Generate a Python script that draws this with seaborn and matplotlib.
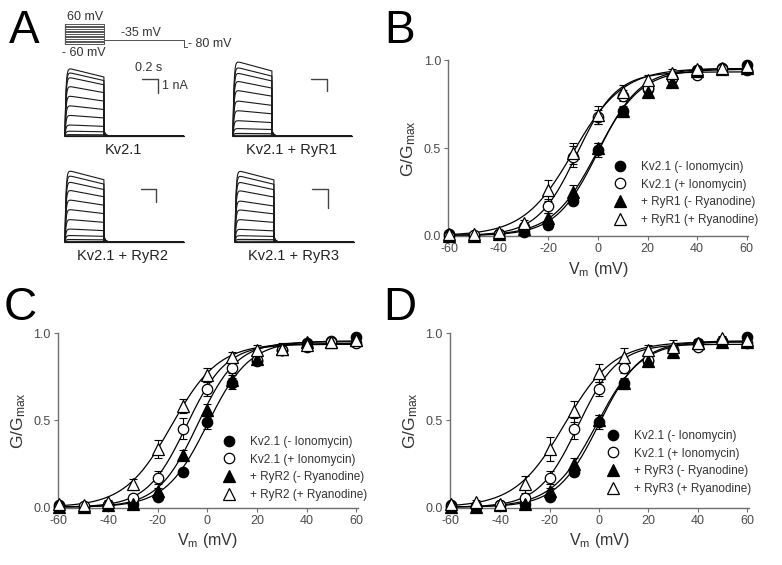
#!/usr/bin/env python3
"""
Kv2.1 / RyR figure: current traces (A) and G-V relations (B-D)
"""

import numpy as np
import pandas as pd
import matplotlib
matplotlib.use("Agg")
import matplotlib.pyplot as plt
import seaborn as sns

# ------------------------------------------------------------
# Data
# ------------------------------------------------------------
vm = [-60, -50, -40, -30, -20, -10, 0, 10, 20, 30, 40, 50, 60]

# G/Gmax means
kv_minus = [0.01, 0.00, 0.01, 0.02, 0.06, 0.20, 0.49, 0.71, 0.84, 0.90, 0.945, 0.955, 0.975]
kv_plus = [0.00, 0.005, 0.01, 0.05, 0.17, 0.45, 0.68, 0.80, 0.845, 0.90, 0.92, 0.95, 0.945]
ryr1_minus = [0.00, 0.00, 0.01, 0.04, 0.10, 0.25, 0.50, 0.71, 0.82, 0.88, 0.94, 0.95, 0.96]
ryr1_plus = [0.01, 0.01, 0.02, 0.07, 0.26, 0.47, 0.69, 0.82, 0.89, 0.93, 0.95, 0.96, 0.97]
ryr2_minus = [0.00, 0.00, 0.01, 0.02, 0.09, 0.30, 0.56, 0.73, 0.85, 0.91, 0.95, 0.95, 0.96]
ryr2_plus = [0.02, 0.01, 0.03, 0.13, 0.335, 0.58, 0.76, 0.86, 0.90, 0.91, 0.93, 0.95, 0.96]
ryr3_minus = [0.00, 0.00, 0.01, 0.02, 0.09, 0.25, 0.50, 0.71, 0.84, 0.89, 0.94, 0.95, 0.95]
ryr3_plus = [0.02, 0.03, 0.02, 0.13, 0.335, 0.55, 0.77, 0.865, 0.90, 0.92, 0.945, 0.97, 0.96]

# SEM
kv_minus_err = [0.0, 0.0, 0.0, 0.01, 0.02, 0.02, 0.04, 0.03, 0.02, 0.02, 0.01, 0.01, 0.01]
kv_plus_err = [0.0, 0.0, 0.0, 0.02, 0.04, 0.06, 0.04, 0.03, 0.03, 0.02, 0.02, 0.01, 0.01]
ryr1_minus_err = [0.0, 0.0, 0.0, 0.01, 0.03, 0.04, 0.03, 0.02, 0.02, 0.02, 0.01, 0.01, 0.01]
ryr1_plus_err = [0.0, 0.0, 0.01, 0.02, 0.06, 0.06, 0.05, 0.04, 0.03, 0.02, 0.02, 0.01, 0.01]
ryr2_minus_err = [0.0, 0.0, 0.0, 0.01, 0.02, 0.03, 0.03, 0.03, 0.02, 0.02, 0.01, 0.01, 0.01]
ryr2_plus_err = [0.0, 0.0, 0.01, 0.03, 0.05, 0.04, 0.04, 0.03, 0.03, 0.03, 0.02, 0.01, 0.01]
ryr3_minus_err = [0.0, 0.0, 0.0, 0.01, 0.02, 0.03, 0.03, 0.02, 0.02, 0.02, 0.01, 0.01, 0.01]
ryr3_plus_err = [0.0, 0.01, 0.01, 0.05, 0.07, 0.06, 0.05, 0.05, 0.03, 0.04, 0.02, 0.01, 0.01]

# Boltzmann fit parameters (V1/2 mV, slope k mV, Gmax)
kv_minus_fit = (0.0, 8.5, 0.955)
kv_plus_fit = (-8.5, 8.0, 0.935)
ryr1_minus_fit = (-0.5, 9.0, 0.95)
ryr1_plus_fit = (-10.0, 10.0, 0.955)
ryr2_minus_fit = (-4.0, 8.0, 0.95)
ryr2_plus_fit = (-14.5, 9.5, 0.94)
ryr3_minus_fit = (-1.0, 9.0, 0.95)
ryr3_plus_fit = (-14.0, 10.0, 0.95)

# Panel A: peak current (nA) of each step, -60 ... +60 mV
steps_mv = vm
amp_kv = [0.0, 0.0, 0.02, 0.10, 0.35, 0.80, 1.50, 2.20, 2.90, 3.60, 4.25, 4.60, 4.90]
amp_ryr1 = [0.0, 0.0, 0.06, 0.22, 0.63, 1.30, 2.15, 2.97, 3.86, 4.64, 5.33, 5.80, 6.30]
amp_ryr2 = [0.0, 0.0, 0.05, 0.20, 0.52, 1.04, 1.80, 2.60, 3.37, 4.14, 4.80, 5.30, 5.70]
amp_ryr3 = [0.0, 0.0, 0.04, 0.14, 0.34, 0.68, 1.20, 1.72, 2.20, 2.75, 3.20, 3.53, 3.80]

legend_kv = ["Kv2.1 (- Ionomycin)", "Kv2.1 (+ Ionomycin)"]

# ------------------------------------------------------------
# Style
# ------------------------------------------------------------
sns.set_style("ticks")
plt.rcParams["font.family"] = ["Liberation Sans", "DejaVu Sans"]
plt.rcParams["mathtext.fontset"] = "custom"
plt.rcParams["mathtext.rm"] = "Liberation Sans"
plt.rcParams["mathtext.it"] = "Liberation Sans:italic"
plt.rcParams["axes.unicode_minus"] = False

W, H = 782, 565
fig = plt.figure(figsize=(W / 100, H / 100), dpi=100)

AX_GRAY = "#6e6e6e"
TXT = "#333333"


def px_axes(left, top, width, height):
    return fig.add_axes([left / W, 1 - (top + height) / H, width / W, height / H])


def boltz(v, p):
    vh, k, gmax = p
    return gmax / (1 + np.exp((vh - v) / k))


# ------------------------------------------------------------
# Panel letters
# ------------------------------------------------------------
for letter, x, y in [("A", 9, 43), ("B", 384, 43), ("C", 4, 320), ("D", 383, 320)]:
    fig.text(x / W, 1 - y / H, letter, fontsize=33, va="baseline", ha="left", color="black")

# ------------------------------------------------------------
# A. Voltage protocol
# ------------------------------------------------------------
PX_S = 78.0  # px per second
ax_p = px_axes(57, 18, 180, 38)
ax_p.set_xlim(-8 / PX_S, 172 / PX_S)
ax_p.set_ylim(-60 - 12 / 0.1667, -60 + 26 / 0.1667)
ax_p.axis("off")
for v in steps_mv:
    ax_p.plot([0, 0.5, 0.5, 1.53, 1.53, 1.56], [v, v, -35, -35, -80, -80],
              color="#555555", lw=0.7)
ax_p.plot([0, 0], [-60, 60], color="#555555", lw=0.9)
ax_p.text(0.02, 66, "60 mV", fontsize=9, color=TXT, va="bottom", ha="left")
ax_p.text(-0.04, -75, "- 60 mV", fontsize=9, color=TXT, va="top", ha="left")
ax_p.text(0.72, -30, "-35 mV", fontsize=9, color=TXT, va="bottom", ha="left")
ax_p.text(1.58, -60, "- 80 mV", fontsize=9, color=TXT, va="center", ha="left")

# ------------------------------------------------------------
# A. Current traces
# ------------------------------------------------------------
t = np.linspace(0, 1.52, 900)
trace_panels = [
    # amps, origin x, baseline y, px per nA, scale bar (t, I), label
    (amp_kv, 65, 136, 14.0, (0.99, 4.07), "Kv2.1"),
    (amp_ryr1, 233, 136, 12.0, (1.00, 4.75), "Kv2.1 + RyR1"),
    (amp_ryr2, 65, 242, 12.7, (0.97, 4.17), "Kv2.1 + RyR2"),
    (amp_ryr3, 235, 242, 19.0, (0.99, 2.79), "Kv2.1 + RyR3"),
]
for amps, x0, y0, ppn, bar, label in trace_panels:
    ax_t = px_axes(x0 - 5, y0 - 85, 135, 90)
    ax_t.set_xlim(-5 / PX_S, 130 / PX_S)
    ax_t.set_ylim(-5 / ppn, 85 / ppn)
    ax_t.axis("off")
    rows = []
    for v, a in zip(steps_mv, amps):
        on = a * (1 - np.exp(-t / 0.012)) * (1 - 0.28 * t)
        tail = a * 0.08 * np.exp(-(t - 0.5) / 0.02)
        cur = np.where(t <= 0.5, on, tail)
        rows.append(pd.DataFrame({"t": t, "I": cur, "step": v}))
    df_tr = pd.concat(rows)
    sns.lineplot(data=df_tr, x="t", y="I", units="step", estimator=None,
                 color="#1a1a1a", lw=0.8, legend=False, ax=ax_t)
    bt, bi = bar
    ax_t.plot([bt, bt + 0.2, bt + 0.2], [bi, bi, bi - 1], color="#444444", lw=1.0)
    fig.text((x0 + 58) / W, 1 - (y0 + 14) / H, label, fontsize=10.5, color="#222222",
             ha="center", va="center")
    if label == "Kv2.1":
        ax_t.text(bt + 0.08, bi + 0.35, "0.2 s", fontsize=9, color=TXT, ha="center", va="bottom")
        ax_t.text(bt + 0.25, bi - 0.5, "1 nA", fontsize=9, color=TXT, ha="left", va="center")

# ------------------------------------------------------------
# B-D. G-V relations
# ------------------------------------------------------------
v_fit = np.linspace(-60, 60, 241)
panels = [
    ((448, 60.5, 300, 176), "RyR1", ryr1_minus, ryr1_minus_err, ryr1_minus_fit,
     ryr1_plus, ryr1_plus_err, ryr1_plus_fit, (611, 161)),
    ((57.5, 333, 300, 175), "RyR2", ryr2_minus, ryr2_minus_err, ryr2_minus_fit,
     ryr2_plus, ryr2_plus_err, ryr2_plus_fit, (220, 436)),
    ((449.5, 333, 299, 175), "RyR3", ryr3_minus, ryr3_minus_err, ryr3_minus_fit,
     ryr3_plus, ryr3_plus_err, ryr3_plus_fit, (604, 430)),
]

for box, ryr, r_m, r_m_err, r_m_fit, r_p, r_p_err, r_p_fit, leg_xy in panels:
    ax = px_axes(*box)
    series = [
        (kv_minus, kv_minus_err, kv_minus_fit, "o", "black", legend_kv[0]),
        (kv_plus, kv_plus_err, kv_plus_fit, "o", "white", legend_kv[1]),
        (r_m, r_m_err, r_m_fit, "^", "black", f"+ {ryr} (- Ryanodine)"),
        (r_p, r_p_err, r_p_fit, "^", "white", f"+ {ryr} (+ Ryanodine)"),
    ]
    for mean, err, fit, *_ in series:
        sns.lineplot(x=v_fit, y=boltz(v_fit, fit), color="black", lw=0.9, ax=ax)
    handles = []
    for mean, err, fit, mk, fc, lab in series:
        ax.errorbar(vm, mean, yerr=err, fmt="none", ecolor="black", elinewidth=0.8,
                    capsize=3, capthick=0.8, zorder=3)
        h, = ax.plot(vm, mean, ls="none", marker=mk, ms=8 if mk == "^" else 7.5,
                     mfc=fc, mec="black", mew=0.9, zorder=4, clip_on=False, label=lab)
        handles.append(h)

    ax.set_xlim(-60.6, 60.6)
    ax.set_ylim(-0.005, 1.0)
    ax.set_xticks([-60, -40, -20, 0, 20, 40, 60])
    ax.set_yticks([0, 0.5, 1.0])
    ax.set_yticklabels(["0.0", "0.5", "1.0"])
    sns.despine(ax=ax)
    for s in ["left", "bottom"]:
        ax.spines[s].set_color(AX_GRAY)
        ax.spines[s].set_linewidth(1.0)
    ax.tick_params(colors=AX_GRAY, labelcolor="#4a4a4a", labelsize=9, length=3, width=0.8,
                   pad=2)
    ax.set_xlabel(r"V$_{\mathrm{m}}$ (mV)", fontsize=11.5, color=TXT, labelpad=3)
    ax.set_ylabel(r"G/G$_{\mathrm{max}}$", fontsize=12.5, color=TXT, labelpad=4)

    lx, ly = leg_xy
    ax.legend(handles=handles, loc="upper left", bbox_to_anchor=(lx / W, 1 - ly / H),
              bbox_transform=fig.transFigure, frameon=False, fontsize=8.5,
              handlelength=1.5, handletextpad=1.0, labelspacing=0.47,
              borderpad=0, borderaxespad=0, labelcolor=TXT)

fig.savefig("out.png", dpi=100)
